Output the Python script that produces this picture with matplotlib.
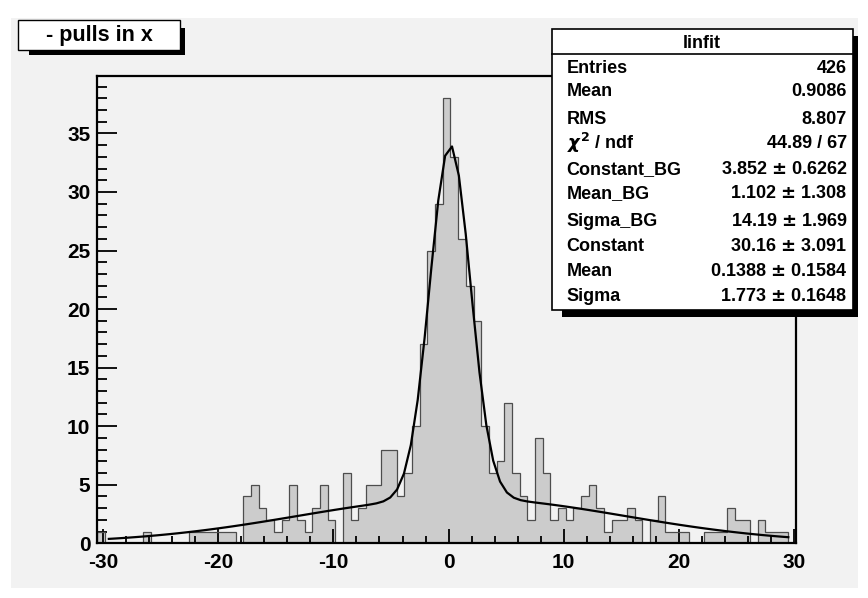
import numpy as np
import matplotlib.pyplot as plt
from matplotlib.patches import Rectangle

plt.rcParams['font.family'] = ['Liberation Sans', 'DejaVu Sans']
plt.rcParams['font.weight'] = 'bold'
plt.rcParams['axes.unicode_minus'] = False

# histogram: 91 bins of width 2/3 starting at -30.5
x_lo = -30.5
bin_w = 2.0 / 3.0
counts = [1, 0, 0, 0, 0, 0, 1, 0, 0, 0, 0, 0, 1, 1, 1, 1, 1, 1, 0,
          4, 5, 3, 2, 1, 2, 5, 2, 1, 3, 5, 2,
          0, 6, 2, 3, 5, 5, 8, 8, 4, 6, 10, 17, 25, 29, 38, 33, 26, 22, 19,
          10, 6, 7, 12, 6, 4, 2,
          9, 6, 2, 3, 2, 3, 4, 5, 3, 1, 2, 2, 3, 2,
          0, 2, 4, 1, 1, 1, 0, 0, 1, 1, 1, 3, 2, 2, 0, 2, 1, 1, 1, 0]

# fit: background gaussian + signal gaussian
bg_const, bg_mean, bg_sigma = 3.852, 1.102, 14.19
sig_const, sig_mean, sig_sigma = 30.16, 0.1388, 1.773
fit_range = (-29.5, 29.5)

stat_names = ['Entries', 'Mean', 'RMS', r'$\chi^2$ / ndf', 'Constant_BG', 'Mean_BG',
              'Sigma_BG', 'Constant', 'Mean', 'Sigma']
stat_values = ['426', '0.9086', '8.807', '44.89 / 67', '3.852 $\\pm$ 0.6262',
               '1.102 $\\pm$ 1.308', '14.19 $\\pm$ 1.969', '30.16 $\\pm$ 3.091',
               '0.1388 $\\pm$ 0.1584', '1.773 $\\pm$ 0.1648']

W, H = 868, 598
fig = plt.figure(figsize=(W / 100, H / 100), dpi=100, facecolor='white')


def fx(px):
    return px / W


def fy(py):
    return 1 - py / H


def box(x0, y0, x1, y1, **kw):
    fig.add_artist(Rectangle((fx(x0), fy(y1)), fx(x1) - fx(x0), fy(y0) - fy(y1),
                             transform=fig.transFigure, **kw))


# canvas
box(11, 18, 858, 588, facecolor='#f2f2f2', edgecolor='none', zorder=0)

ax = fig.add_axes([fx(97.3), fy(543.3), fx(796) - fx(97.3), fy(76) - fy(543.3)])
ax.set_facecolor('#f2f2f2')

edges = x_lo + bin_w * np.arange(len(counts) + 1)
ax.stairs(counts, edges, fill=True, color='#cccccc', zorder=1)
ax.stairs(counts, edges, color='#4d4d4d', linewidth=0.9, baseline=0, zorder=2)

xf = np.linspace(fit_range[0], fit_range[1], 100)
yf = (bg_const * np.exp(-0.5 * ((xf - bg_mean) / bg_sigma) ** 2)
      + sig_const * np.exp(-0.5 * ((xf - sig_mean) / sig_sigma) ** 2))
ax.plot(xf, yf, color='black', linewidth=1.6, zorder=3)

ax.set_xlim(edges[0], edges[-1])
ax.set_ylim(0, 1.05 * max(counts))

ax.set_xticks(np.arange(-30, 31, 10))
ax.set_xticks(np.arange(-30, 31, 2), minor=True)
ax.set_yticks(np.arange(0, 36, 5))
ax.set_yticks(np.arange(0, 40, 1), minor=True)
ax.tick_params(axis='both', which='both', direction='in', top=False, right=False,
               labelsize=15, width=1.3, color='black')
ax.tick_params(axis='y', which='major', length=14.5, pad=5)
ax.tick_params(axis='y', which='minor', length=7)
ax.tick_params(axis='x', which='major', length=10, pad=7)
ax.tick_params(axis='x', which='minor', length=5)
for lab in ax.get_xticklabels() + ax.get_yticklabels():
    lab.set_fontweight('bold')
for sp in ax.spines.values():
    sp.set_linewidth(1.6)
    sp.set_zorder(4)

# title box with shadow
box(29, 28, 185, 55, facecolor='black', edgecolor='none', zorder=5)
box(18, 20, 180, 50, facecolor='white', edgecolor='black', linewidth=1.0, zorder=6)
fig.text(fx(99), fy(35), '- pulls in x', ha='center', va='center', fontsize=15.5,
         fontweight='bold', zorder=7)

# stats box with shadow
box(562, 36, 858, 317, facecolor='black', edgecolor='none', zorder=5)
box(552, 29, 853, 310, facecolor='white', edgecolor='black', linewidth=1.2, zorder=6)
fig.add_artist(plt.Line2D([fx(552), fx(853)], [fy(53.5), fy(53.5)], color='black',
                          linewidth=1.2, transform=fig.transFigure, zorder=7))
fig.text(fx(702), fy(43), 'linfit', ha='center', va='center', fontsize=13,
         fontweight='bold', zorder=7)
row_y = [68.3, 91.7, 119.3, 143.3, 169.3, 193.3, 221, 246.7, 271.7, 296.7]
for name, val, ry in zip(stat_names, stat_values, row_y):
    fig.text(fx(566.7), fy(ry), name, ha='left', va='center', fontsize=13,
             fontweight='bold', zorder=7)
    fig.text(fx(847), fy(ry), val, ha='right', va='center', fontsize=13,
             fontweight='bold', zorder=7)

fig.savefig('out.png', dpi=100, facecolor='white')
